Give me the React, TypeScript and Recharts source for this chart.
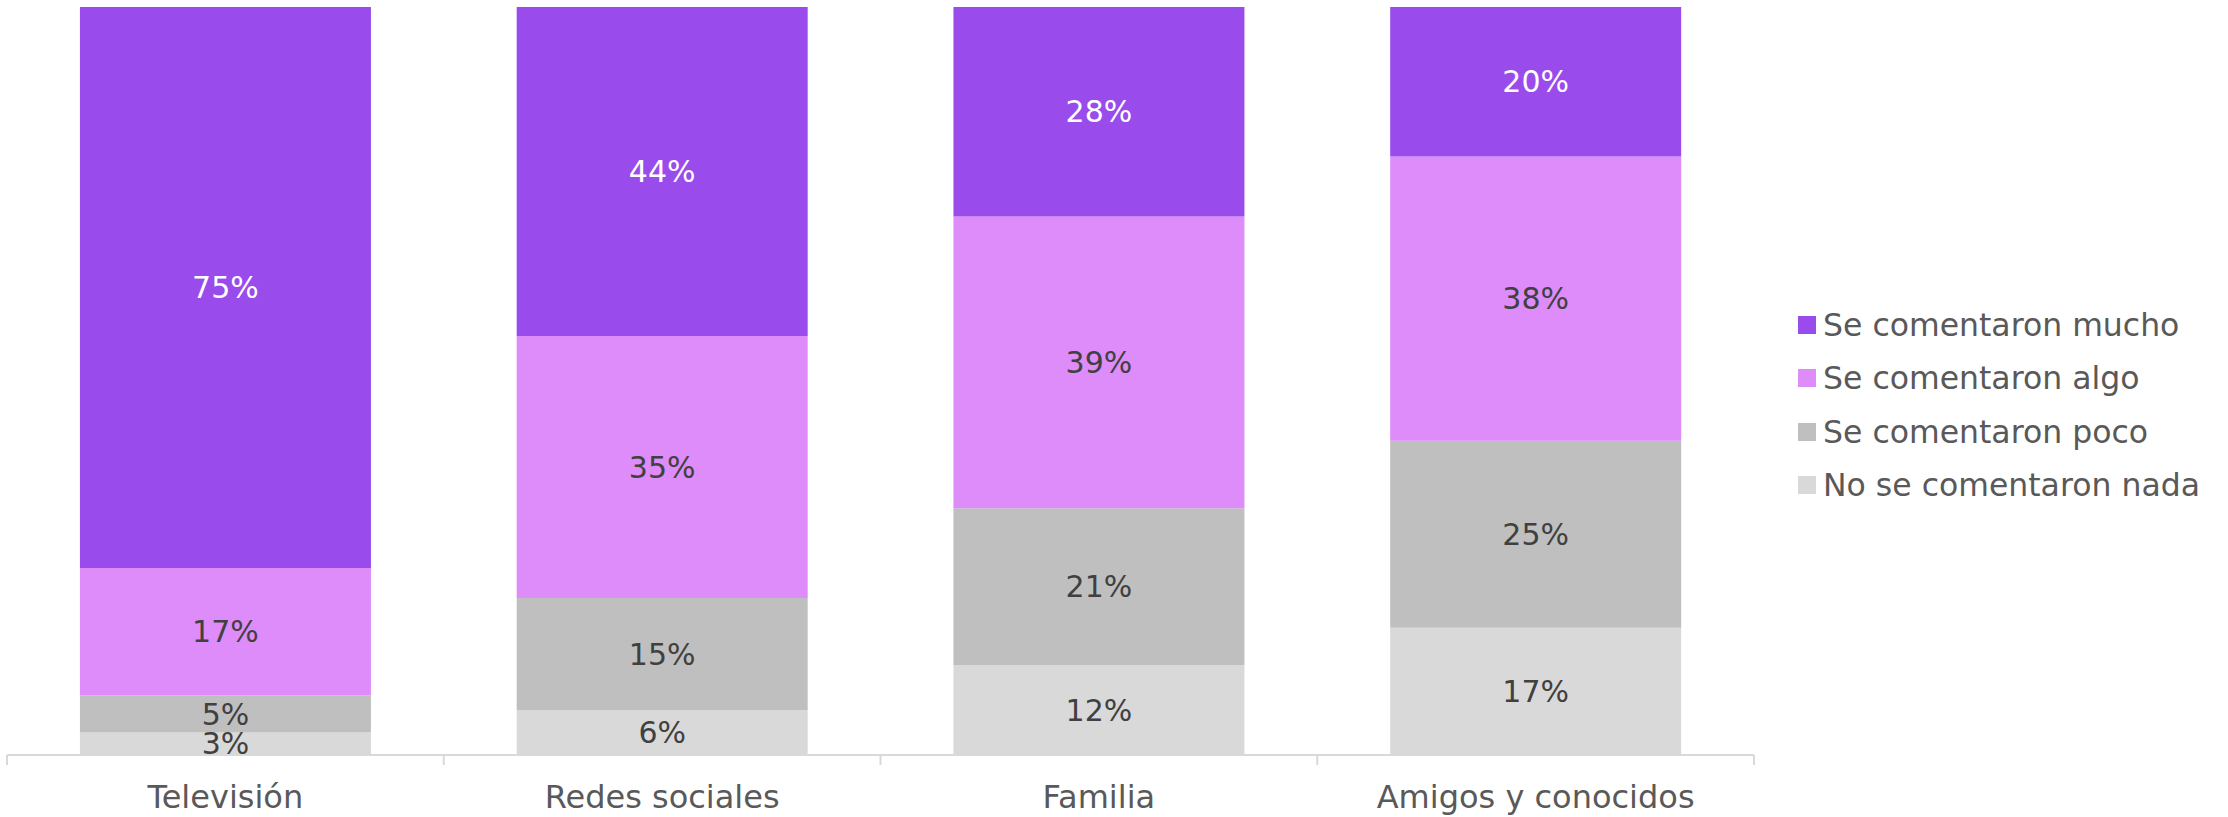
import React from 'react';
import { BarChart, Bar, XAxis, YAxis, LabelList } from 'recharts';

const categories = ['Televisión', 'Redes sociales', 'Familia', 'Amigos y conocidos'];
const nada = [3, 6, 12, 17];
const poco = [5, 15, 21, 25];
const algo = [17, 35, 39, 38];
const mucho = [75, 44, 28, 20];

const seriesNames = {
  nada: 'No se comentaron nada',
  poco: 'Se comentaron poco',
  algo: 'Se comentaron algo',
  mucho: 'Se comentaron mucho',
};

const colors = {
  nada: '#D9D9D9',
  poco: '#BFBFBF',
  algo: '#DE8CF9',
  mucho: '#994CEB',
};

const data = categories.map((name, i) => ({
  name,
  nada: nada[i],
  poco: poco[i],
  algo: algo[i],
  mucho: mucho[i],
}));

const W = 2228;
const H = 817;
const margin = { top: 7, right: 474, bottom: 0, left: 7 };
const plotW = W - margin.left - margin.right;
const band = plotW / categories.length;
const FONT = '"DejaVu Sans", sans-serif';

const Tick = (props: any) => {
  const { x, y, payload, index } = props;
  const left = x - band / 2;
  return (
    <g>
      <line x1={left} y1={y - 8} x2={left} y2={y + 2} stroke="#D9D9D9" strokeWidth={2} />
      {index === categories.length - 1 && (
        <line x1={left + band} y1={y - 8} x2={left + band} y2={y + 2} stroke="#D9D9D9" strokeWidth={2} />
      )}
      <text x={x} y={y + 45} textAnchor="middle" fill="#595959" fontSize={32} fontFamily={FONT}>
        {payload.value}
      </text>
    </g>
  );
};

const LegendBox = () => {
  const keys: (keyof typeof colors)[] = ['mucho', 'algo', 'poco', 'nada'];
  return (
    <div style={{ position: 'absolute', left: 1798, top: 298, fontFamily: FONT, fontSize: 31.5, color: '#595959' }}>
      {keys.map((k) => (
        <div key={k} style={{ display: 'flex', alignItems: 'center', height: 53.5, whiteSpace: 'nowrap' }}>
          <span style={{ width: 18, height: 18, background: colors[k], marginRight: 7, display: 'inline-block' }} />
          <span>{seriesNames[k]}</span>
        </div>
      ))}
    </div>
  );
};

const pct = (v: any) => `${v}%`;

export default function App() {
  const order: (keyof typeof colors)[] = ['nada', 'poco', 'algo', 'mucho'];
  return (
    <div style={{ position: 'relative', width: W, height: H, background: '#fff' }}>
      <style>{'body{margin:0}'}</style>
      <BarChart width={W} height={H} data={data} margin={margin} barCategoryGap="16.7%">
        <XAxis
          dataKey="name"
          height={62}
          tickLine={false}
          axisLine={{ stroke: '#D9D9D9', strokeWidth: 2 }}
          tick={<Tick />}
          interval={0}
        />
        <YAxis hide domain={[0, 100]} />
        {order.map((k) => (
          <Bar key={k} dataKey={k} stackId="a" fill={colors[k]} name={seriesNames[k]} isAnimationActive={false}>
            <LabelList
              dataKey={k}
              position="center"
              formatter={pct}
              fill={k === 'mucho' ? '#FFFFFF' : '#404040'}
              fontSize={30}
              fontFamily={FONT}
            />
          </Bar>
        ))}
      </BarChart>
      <LegendBox />
    </div>
  );
}
